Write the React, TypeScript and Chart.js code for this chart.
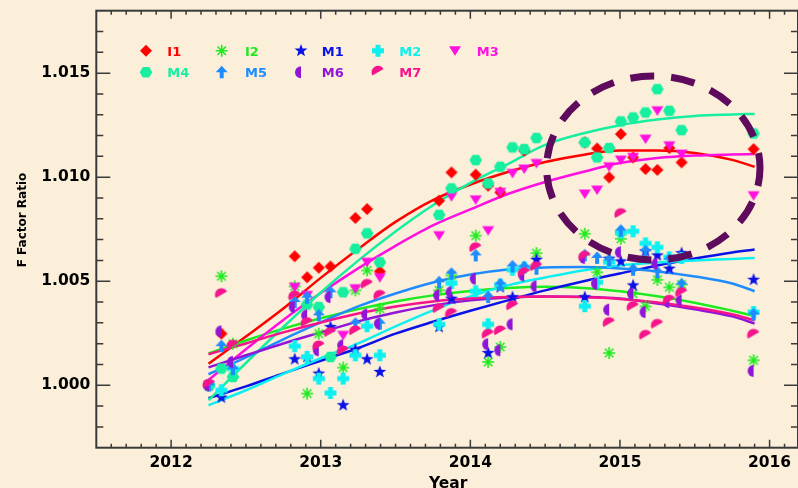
import React, { useEffect, useRef } from 'react';
import { Chart, registerables } from 'chart.js';

Chart.register(...registerables);

// ---------------- data ----------------
const DATES = [
  2012.253, 2012.336, 2012.413, 2012.826, 2012.909, 2012.987, 2013.065, 2013.150, 2013.232, 2013.310,
  2013.395, 2013.791, 2013.874, 2013.956, 2014.036, 2014.119, 2014.200, 2014.282, 2014.360, 2014.442,
  2014.765, 2014.847, 2014.928, 2015.006, 2015.088, 2015.171, 2015.250, 2015.330, 2015.412, 2015.893,
];

const I1 = [1.0, 1.00248, null, 1.0062, 1.00519, 1.00565, 1.00571, null, 1.00804, 1.00847,
  1.00547, 1.00887, 1.01023, null, 1.01012, 1.00959, 1.00927, null, 1.01127, null,
  1.01167, 1.01138, 1.00999, 1.01207, 1.01095, 1.01039, 1.01035, 1.0114, 1.01071, 1.01135];
const I2 = [1.0, 1.00524, 1.002, 1.00475, 0.9996, 1.00248, null, 1.00085, 1.00456, 1.00552,
  1.00368, 1.00456, 1.00528, null, 1.00719, 1.00112, 1.00184, null, null, 1.00635,
  1.00728, 1.00543, 1.00155, 1.00704, 1.0044, 1.00379, 1.00507, 1.00471, 1.00484, 1.0012];
const M1 = [1.0, 0.99941, null, 1.00125, 1.00136, 1.00056, 1.0028, 0.99904, 1.00171, 1.00125,
  1.00064, 1.0028, 1.00416, null, null, 1.00155, 1.00471, 1.00423, null, 1.00603,
  1.00423, null, 1.00608, 1.00595, 1.0048, 1.00644, 1.00624, 1.0056, 1.00635, 1.00507];
const M2 = [1.0, 0.99976, 1.0008, 1.00188, 1.00136, 1.00032, 0.99963, 1.00032, 1.00144, 1.00284,
  1.00144, 1.00293, 1.00491, null, 1.00452, 1.00293, 1.00484, 1.00555, 1.00567, null,
  1.0038, 1.00495, 1.00592, 1.00733, 1.0074, 1.00682, 1.00663, 1.00615, 1.00612, 1.00352];
const M3 = [1.0, null, null, 1.00471, 1.00432, null, null, 1.0024, 1.00464, 1.00591,
  1.00517, 1.00719, 1.00906, null, 1.00891, 1.00743, 1.00927, 1.01018, 1.01039, 1.01066,
  1.00919, 1.00938, 1.0105, 1.01082, 1.01095, 1.01183, 1.01319, 1.01151, 1.01111, 1.00911];
const M4 = [1.0, 1.0008, 1.0004, null, 1.00388, 1.00376, 1.00136, 1.00447, 1.00656, 1.0073,
  1.00591, 1.00819, 1.00946, null, 1.01082, 1.0097, 1.0105, 1.01143, 1.01135, 1.01188,
  1.01167, 1.01095, 1.0114, 1.01268, 1.01287, 1.01311, 1.01423, 1.01319, 1.01226, 1.0121];
const M5 = [1.0, 1.00188, 1.00077, 1.004, 1.00421, 1.00336, 1.00447, null, 1.00296, null,
  1.00296, 1.00495, 1.00536, null, 1.00624, 1.00424, 1.00484, 1.00571, 1.00567, 1.0056,
  1.00624, 1.00612, 1.006, 1.00743, 1.00555, 1.00644, 1.00543, 1.00603, 1.00484, 1.0034];
const M6 = [1.0, 1.00259, 1.00112, 1.00376, 1.00336, 1.00168, 1.00424, 1.00192, null, 1.0034,
  1.00296, 1.00432, 1.00447, null, 1.00512, 1.00197, 1.00168, 1.00293, 1.00528, 1.00475,
  1.00612, 1.00488, 1.00363, 1.00639, 1.0044, 1.00352, 1.00584, 1.004, 1.00408, 1.00069];
const M7 = [1.0, 1.00435, 1.00188, 1.00424, 1.00296, 1.00184, 1.00248, 1.0016, 1.00256, 1.0048,
  1.00427, 1.00363, 1.0034, null, 1.00656, 1.0024, 1.00256, 1.00376, 1.00536, 1.00565,
  1.00615, null, 1.00296, 1.0082, 1.00373, 1.00235, 1.00288, 1.00404, 1.0044, 1.0024];

// fitted trend curves, sampled at FIT_X
const FIT_X = [2012.25, 2012.5, 2012.75, 2013.0, 2013.25, 2013.5, 2013.75, 2014.0,
  2014.25, 2014.5, 2014.75, 2015.0, 2015.25, 2015.5, 2015.75, 2015.9];
const I1_FIT = [1.00103, 1.00234, 1.00369, 1.00516, 1.00655, 1.00785, 1.0089, 1.00965,
  1.01025, 1.01073, 1.01107, 1.01128, 1.01128, 1.01116, 1.01083, 1.0105];
const I2_FIT = [1.00153, 1.00215, 1.00272, 1.00322, 1.00366, 1.00403, 1.00432, 1.00453,
  1.00467, 1.00473, 1.00468, 1.00452, 1.00428, 1.00397, 1.00358, 1.00333];
const M1_FIT = [0.99938, 0.99995, 1.00057, 1.00118, 1.00179, 1.00248, 1.00305, 1.00358,
  1.00408, 1.00456, 1.00499, 1.00537, 1.00576, 1.00609, 1.00638, 1.00652];
const M2_FIT = [0.99904, 0.99976, 1.00055, 1.0013, 1.00201, 1.00283, 1.0036, 1.00427,
  1.0048, 1.00518, 1.00552, 1.00576, 1.0059, 1.006, 1.00607, 1.00612];
const M3_FIT = [1.00025, 1.00173, 1.00314, 1.00443, 1.00562, 1.0067, 1.00768, 1.00845,
  1.00919, 1.00977, 1.01025, 1.01068, 1.01092, 1.01104, 1.01109, 1.01111];
const M4_FIT = [0.99928, 1.00107, 1.0028, 1.00446, 1.00599, 1.00739, 1.00865, 1.00973,
  1.01063, 1.01155, 1.0121, 1.0125, 1.01277, 1.01294, 1.01301, 1.01304];
const M5_FIT = [1.00053, 1.00134, 1.00221, 1.00302, 1.00379, 1.00441, 1.00494, 1.00532,
  1.00556, 1.00566, 1.00568, 1.00561, 1.00547, 1.00523, 1.00489, 1.00452];
const M6_FIT = [1.00086, 1.00144, 1.00201, 1.00254, 1.00307, 1.0035, 1.00384, 1.00408,
  1.00422, 1.00427, 1.00425, 1.00417, 1.00393, 1.00365, 1.00331, 1.00297];
const M7_FIT = [1.00149, 1.00201, 1.00254, 1.00302, 1.00345, 1.00379, 1.00403, 1.00417,
  1.00424, 1.00427, 1.00424, 1.00415, 1.00398, 1.00374, 1.00341, 1.00312];

const SERIES_NAMES = ['I1', 'I2', 'M1', 'M2', 'M3', 'M4', 'M5', 'M6', 'M7'];
const X_TICKS = [2012, 2013, 2014, 2015, 2016];
const Y_TICKS = [1.0, 1.005, 1.01, 1.015];
const X_MIN = 2011.5;
const X_MAX = 2016.19;
const Y_MIN = 0.997;
const Y_MAX = 1.018;
const X_TITLE = 'Year';
const Y_TITLE = 'F Factor Ratio';

// highlighted region (dashed ellipse), in data units
const ELLIPSE_CX = 2015.223;
const ELLIPSE_CY = 1.01044;
const ELLIPSE_RX = 0.713;
const ELLIPSE_RY = 0.00442;

// ---------------- styles / layout ----------------
const BG = '#FBEFD9';
const AXIS_COLOR = '#3a3a3a';
const FONT = 'DejaVu Sans';
const PLOT_RIGHT = 798;
const COLORS = ['#FF0000', '#1EEB1E', '#0A12E8', '#0EF0F0', '#FF10E0', '#17EFA0', '#1E8CFF', '#9015D8', '#F5148C'];
const SHAPES = ['diamond', 'asterisk', 'star', 'plus', 'triDown', 'hexagon', 'arrowUp', 'halfLeft', 'cap'];

function drawShape(ctx: CanvasRenderingContext2D, kind: string, color: string, cx: number, cy: number) {
  ctx.save();
  ctx.translate(cx, cy);
  ctx.fillStyle = color;
  ctx.strokeStyle = color;
  ctx.beginPath();
  switch (kind) {
    case 'diamond':
      ctx.moveTo(0, -6); ctx.lineTo(6, 0); ctx.lineTo(0, 6); ctx.lineTo(-6, 0); ctx.closePath(); ctx.fill();
      break;
    case 'asterisk':
      ctx.lineWidth = 1.6;
      for (let k = 0; k < 4; k++) {
        const a = (k * Math.PI) / 4;
        ctx.moveTo(-6 * Math.cos(a), -6 * Math.sin(a));
        ctx.lineTo(6 * Math.cos(a), 6 * Math.sin(a));
      }
      ctx.stroke();
      break;
    case 'star':
      for (let k = 0; k < 10; k++) {
        const r = k % 2 === 0 ? 6.8 : 2.8;
        const a = -Math.PI / 2 + (k * Math.PI) / 5;
        const px = r * Math.cos(a), py = r * Math.sin(a);
        if (k === 0) ctx.moveTo(px, py); else ctx.lineTo(px, py);
      }
      ctx.closePath(); ctx.fill();
      break;
    case 'plus':
      ctx.rect(-6, -2.5, 12, 5); ctx.rect(-2.5, -6, 5, 12); ctx.fill();
      break;
    case 'triDown':
      ctx.moveTo(-6, -4.5); ctx.lineTo(6, -4.5); ctx.lineTo(0, 5); ctx.closePath(); ctx.fill();
      break;
    case 'hexagon':
      ctx.moveTo(-6.3, 0); ctx.lineTo(-3.2, -5.2); ctx.lineTo(3.2, -5.2); ctx.lineTo(6.3, 0);
      ctx.lineTo(3.2, 5.2); ctx.lineTo(-3.2, 5.2); ctx.closePath(); ctx.fill();
      break;
    case 'arrowUp':
      ctx.moveTo(0, -6.5); ctx.lineTo(6, 0); ctx.lineTo(2, 0); ctx.lineTo(2, 6); ctx.lineTo(-2, 6);
      ctx.lineTo(-2, 0); ctx.lineTo(-6, 0); ctx.closePath(); ctx.fill();
      break;
    case 'halfLeft':
      ctx.moveTo(0, -6); ctx.arc(0, 0, 6, -Math.PI / 2, Math.PI / 2, true); ctx.closePath(); ctx.fill();
      break;
    case 'cap':
      ctx.rotate(-Math.PI / 6);
      ctx.moveTo(-6.5, 0); ctx.arc(0, 0, 6.5, Math.PI, 2 * Math.PI); ctx.closePath(); ctx.fill();
      break;
  }
  ctx.restore();
}

function makeMarker(kind: string, color: string): HTMLCanvasElement {
  const c = document.createElement('canvas');
  c.width = 20; c.height = 20;
  const ctx = c.getContext('2d')!;
  drawShape(ctx, kind, color, 10, 10);
  return c;
}

const SERIES_VALUES = [I1, I2, M1, M2, M3, M4, M5, M6, M7];
const SERIES_FITS = [I1_FIT, I2_FIT, M1_FIT, M2_FIT, M3_FIT, M4_FIT, M5_FIT, M6_FIT, M7_FIT];

// legend layout (pixels)
const LEGEND_MARK_X = [146, 221.7, 301, 378, 455];
const LEGEND_TEXT_X = [167.3, 245, 321.7, 399.3, 476.7];
const LEGEND_ROW_Y = [50.7, 72.3];

const bgPlugin = {
  id: 'bg',
  beforeDraw(chart: any) {
    const { ctx, width, height } = chart;
    ctx.save();
    ctx.fillStyle = BG;
    ctx.fillRect(0, 0, width, height);
    ctx.restore();
  },
};

// stretch plot area to the right edge (Chart.js reserves room for the last tick label)
const fixAreaPlugin = {
  id: 'fixArea',
  afterLayout(chart: any) {
    const a = chart.chartArea;
    a.right = PLOT_RIGHT;
    a.width = a.right - a.left;
    const x = chart.scales.x;
    x.right = PLOT_RIGHT;
    x.width = x.right - x.left;
    x.configure();
  },
};

const framePlugin = {
  id: 'frame',
  beforeDatasetsDraw(chart: any) {
    const { ctx, chartArea: a, scales } = chart;
    const x = scales.x, y = scales.y;
    ctx.save();
    ctx.strokeStyle = AXIS_COLOR;
    ctx.lineWidth = 2;
    ctx.strokeRect(a.left, a.top, a.right - a.left, a.bottom - a.top);
    ctx.lineWidth = 1.5;
    ctx.beginPath();
    for (let k = Math.ceil(X_MIN * 10 + 1e-6); k <= Math.floor(X_MAX * 10 - 1e-6); k++) {
      const px = x.getPixelForValue(k / 10);
      const len = k % 10 === 0 ? 8 : 4;
      ctx.moveTo(px, a.bottom); ctx.lineTo(px, a.bottom - len);
      ctx.moveTo(px, a.top); ctx.lineTo(px, a.top + len);
    }
    for (let k = Math.ceil(Y_MIN * 1000 + 1e-6); k <= Math.floor(Y_MAX * 1000 - 1e-6); k++) {
      const py = y.getPixelForValue(k / 1000);
      const len = k % 5 === 0 ? 14 : 7;
      ctx.moveTo(a.left, py); ctx.lineTo(a.left + len, py);
      ctx.moveTo(a.right, py); ctx.lineTo(a.right - len, py);
    }
    ctx.stroke();
    ctx.restore();
  },
};

const overlayPlugin = {
  id: 'overlay',
  afterDraw(chart: any) {
    const { ctx, chartArea: a, scales } = chart;
    const x = scales.x, y = scales.y;
    ctx.save();
    // dashed ellipse
    const cx = x.getPixelForValue(ELLIPSE_CX);
    const cy = y.getPixelForValue(ELLIPSE_CY);
    const rx = Math.abs(x.getPixelForValue(ELLIPSE_CX + ELLIPSE_RX) - cx);
    const ry = Math.abs(y.getPixelForValue(ELLIPSE_CY + ELLIPSE_RY) - cy);
    ctx.strokeStyle = '#5E0B5E';
    ctx.lineWidth = 7;
    ctx.setLineDash([24, 17]);
    ctx.lineDashOffset = 6;
    ctx.beginPath();
    ctx.ellipse(cx, cy, rx, ry, 0, 0, Math.PI * 2);
    ctx.stroke();
    ctx.setLineDash([]);

    // legend
    ctx.font = `bold 13px "${FONT}"`;
    ctx.textAlign = 'left';
    ctx.textBaseline = 'alphabetic';
    SERIES_NAMES.forEach((name, i) => {
      const row = i < 5 ? 0 : 1;
      const col = i < 5 ? i : i - 5;
      drawShape(ctx, SHAPES[i], COLORS[i], LEGEND_MARK_X[col], LEGEND_ROW_Y[row]);
      ctx.fillStyle = COLORS[i];
      ctx.fillText(name, LEGEND_TEXT_X[col], LEGEND_ROW_Y[row] + 4.8);
    });

    // axis titles
    ctx.fillStyle = '#000';
    ctx.font = `bold 15.5px "${FONT}"`;
    ctx.textAlign = 'center';
    ctx.fillText(X_TITLE, (a.left + a.right) / 2 + 1, 487.5);
    ctx.font = `bold 12px "${FONT}"`;
    ctx.translate(25.8, 220);
    ctx.rotate(-Math.PI / 2);
    ctx.fillText(Y_TITLE, 0, 0);
    ctx.restore();
  },
};

export default function App() {
  const ref = useRef<HTMLCanvasElement>(null);
  useEffect(() => {
    const datasets: any[] = [];
    SERIES_NAMES.forEach((name, i) => {
      const pts = DATES.map((d, j) => (SERIES_VALUES[i][j] == null ? null : { x: d, y: SERIES_VALUES[i][j] }))
        .filter((p) => p !== null);
      datasets.push({
        label: name,
        data: pts,
        showLine: false,
        pointStyle: makeMarker(SHAPES[i], COLORS[i]),
        pointRadius: 6,
        order: 20 - i,
      });
    });
    SERIES_NAMES.forEach((name, i) => {
      datasets.push({
        label: name + ' fit',
        data: FIT_X.map((fx, j) => ({ x: fx, y: SERIES_FITS[i][j] })),
        showLine: true,
        borderColor: COLORS[i],
        borderWidth: 2.5,
        pointRadius: 0,
        tension: 0.4,
        cubicInterpolationMode: 'monotone',
        order: 40 - i,
      });
    });

    const tickFont = { family: FONT, weight: 'bold' as const, size: 15.5 };
    const chart = new Chart(ref.current!, {
      type: 'scatter',
      data: { datasets },
      options: {
        responsive: false,
        animation: false,
        devicePixelRatio: 1,
        layout: { padding: { top: 10.7, right: 0, left: 0, bottom: 0 } },
        plugins: { legend: { display: false }, tooltip: { enabled: false } },
        scales: {
          x: {
            type: 'linear',
            min: X_MIN,
            max: X_MAX,
            grid: { display: false, drawTicks: false },
            border: { display: false },
            ticks: {
              font: tickFont,
              color: '#000',
              padding: 6,
              maxRotation: 0,
              autoSkip: false,
              callback: (v: any) => String(v),
            },
            afterBuildTicks: (s: any) => { s.ticks = X_TICKS.map((v) => ({ value: v })); },
            afterFit: (s: any) => {
              s.height = 40.3;
              s.paddingLeft = 0; s.paddingRight = 0; s.paddingTop = 0; s.paddingBottom = 0;
            },
          },
          y: {
            type: 'linear',
            min: Y_MIN,
            max: Y_MAX,
            grid: { display: false, drawTicks: false },
            border: { display: false },
            ticks: {
              font: tickFont,
              color: '#000',
              padding: 6,
              autoSkip: false,
              callback: (v: any) => Number(v).toFixed(3),
            },
            afterBuildTicks: (s: any) => { s.ticks = Y_TICKS.map((v) => ({ value: v })); },
            afterFit: (s: any) => {
              s.width = 96.3;
              s.paddingLeft = 0; s.paddingRight = 0; s.paddingTop = 0; s.paddingBottom = 0;
            },
          },
        },
      },
      plugins: [bgPlugin, fixAreaPlugin, framePlugin, overlayPlugin],
    } as any);
    return () => chart.destroy();
  }, []);

  return (
    <div style={{ position: 'fixed', left: 0, top: 0, width: 798, height: 488, background: BG }}>
      <canvas ref={ref} width={798} height={488} style={{ display: 'block', width: 798, height: 488 }} />
    </div>
  );
}
